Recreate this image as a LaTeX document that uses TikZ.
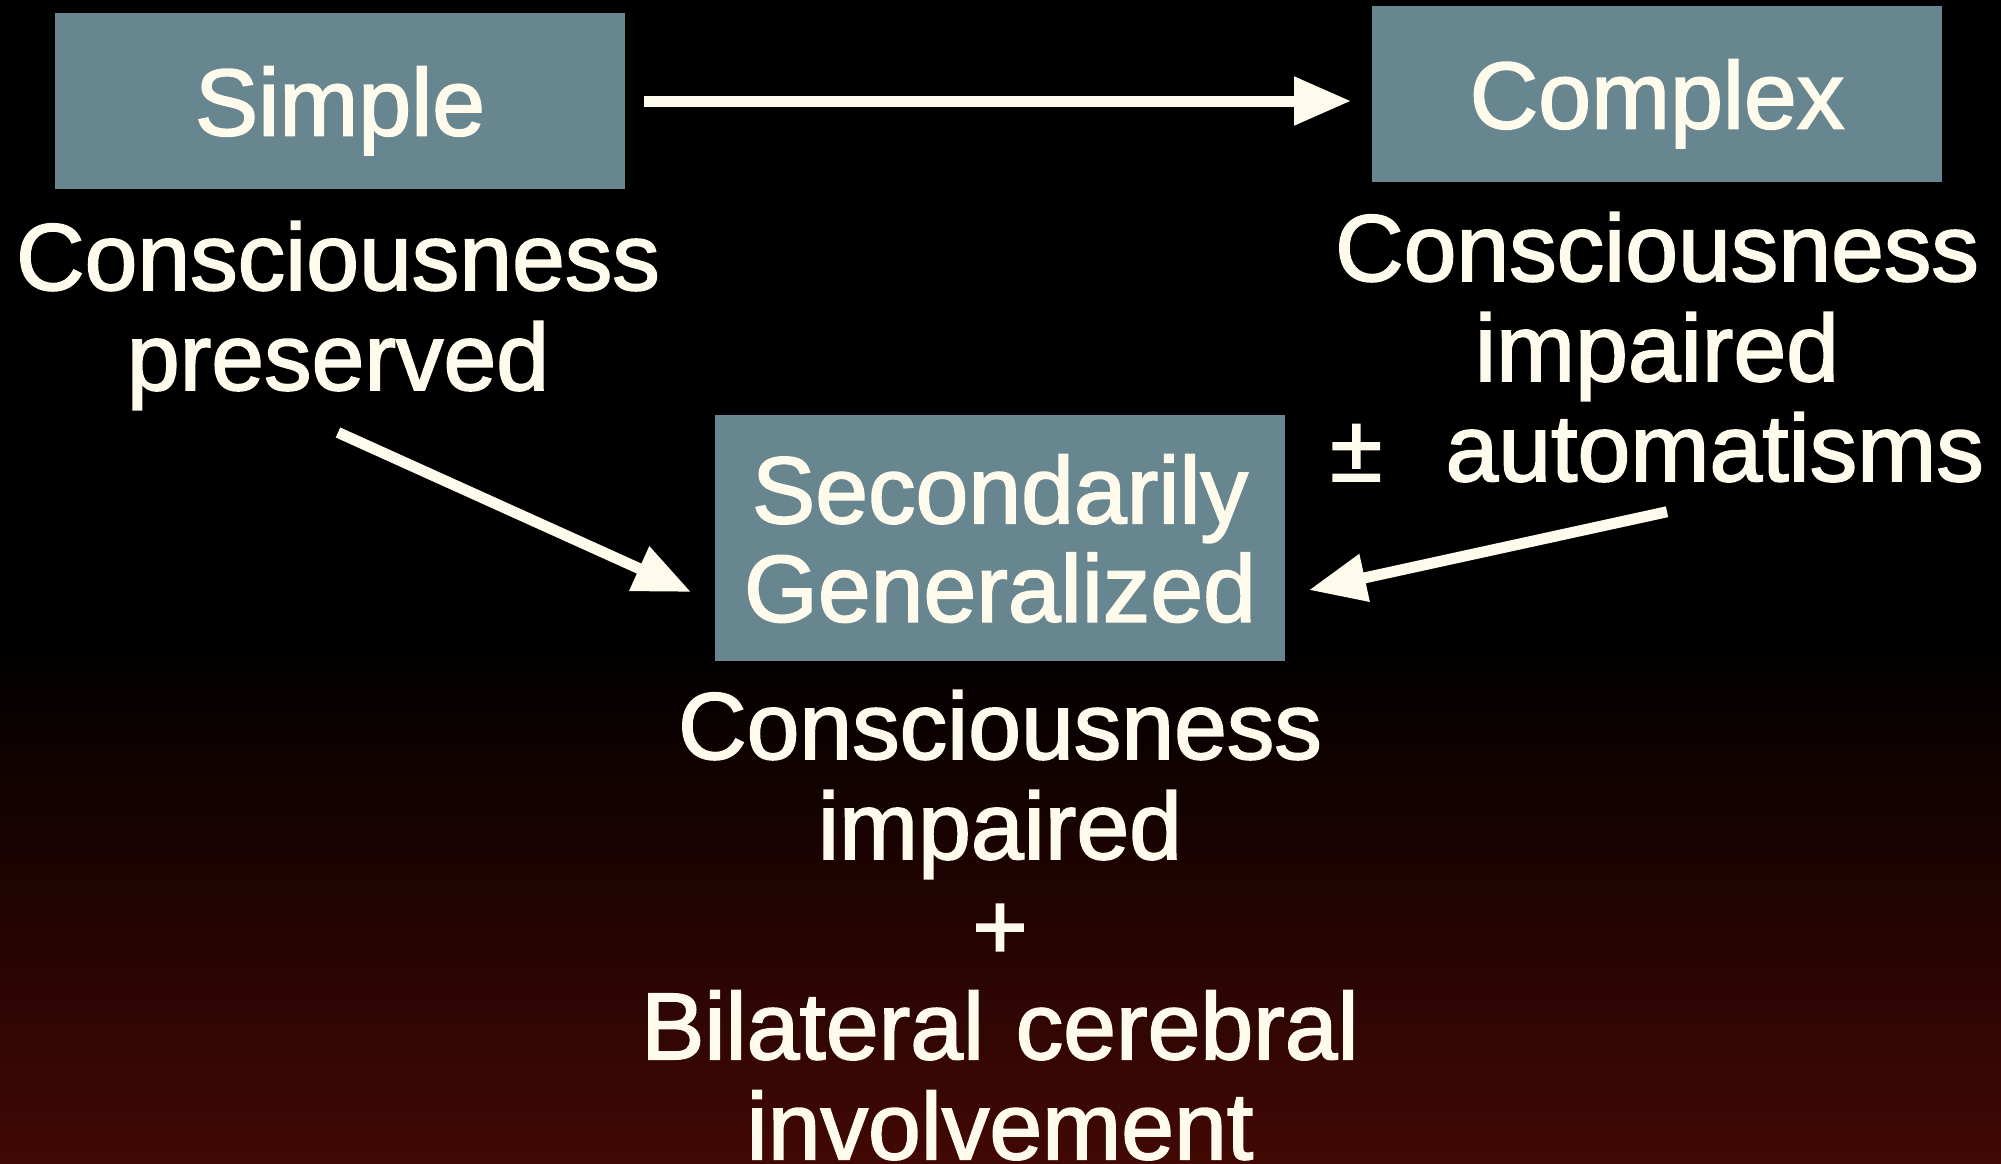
\documentclass[tikz,border=0pt]{standalone}
\usepackage{fontspec}
\setmainfont[FakeBold=1.8]{Liberation Sans}
\usetikzlibrary{arrows.meta}
\definecolor{boxgray}{RGB}{104,134,143}
\definecolor{chalk}{RGB}{255,251,236}
\definecolor{darkred}{RGB}{66,8,4}

\begin{document}
\begin{tikzpicture}[x=0.01cm, y=-0.01cm,
  kind/.style={fill=boxgray, text=chalk, minimum width=5.7cm, inner sep=0pt, text depth=0pt, align=center, font=\fontsize{27}{28}\selectfont},
  note/.style={text=chalk, text width=7.5cm, align=center, inner sep=0pt, anchor=base, font=\fontsize{27}{28.45}\selectfont},
  flow/.style={-{Triangle[length=0.57cm, width=0.46cm]}, chalk, line width=0.11cm}]
\useasboundingbox (0,0) rectangle (2001,1163);
\fill[black] (0,0) rectangle (2001,1163);
\shade[top color=black, bottom color=darkred] (0,640) rectangle (2001,1163);
\node[kind, minimum height=1.76cm] (simple) at (340,101) {Simple};
\node[kind, minimum height=1.75cm] (complex) at (1657,94) {Complex};
\node[kind, minimum height=2.45cm] (secgen) at (1000,538) {Secondarily\\Generalized};
\node[note] (presv) at (338,290) {Consciousness\\preserved};
\node[note] (auto) at (1657,281) {Consciousness\\impaired\\±\ \ automatisms};
\node[note] (invol) at (1000,759) {Consciousness\\impaired\\+\\Bilateral cerebral\\involvement};
\draw[flow, shorten <=0.18cm, shorten >=0.2cm] (simple.east) -- (simple.east -| complex.west);
\draw[flow] ([yshift=-0.22cm]presv.south) -- ([xshift=-0.23cm, yshift=-0.54cm]secgen.west);
\draw[flow] ([xshift=0.1cm, yshift=-0.29cm]auto.south) -- ([xshift=0.23cm, yshift=-0.52cm]secgen.east);
\end{tikzpicture}
\end{document}
